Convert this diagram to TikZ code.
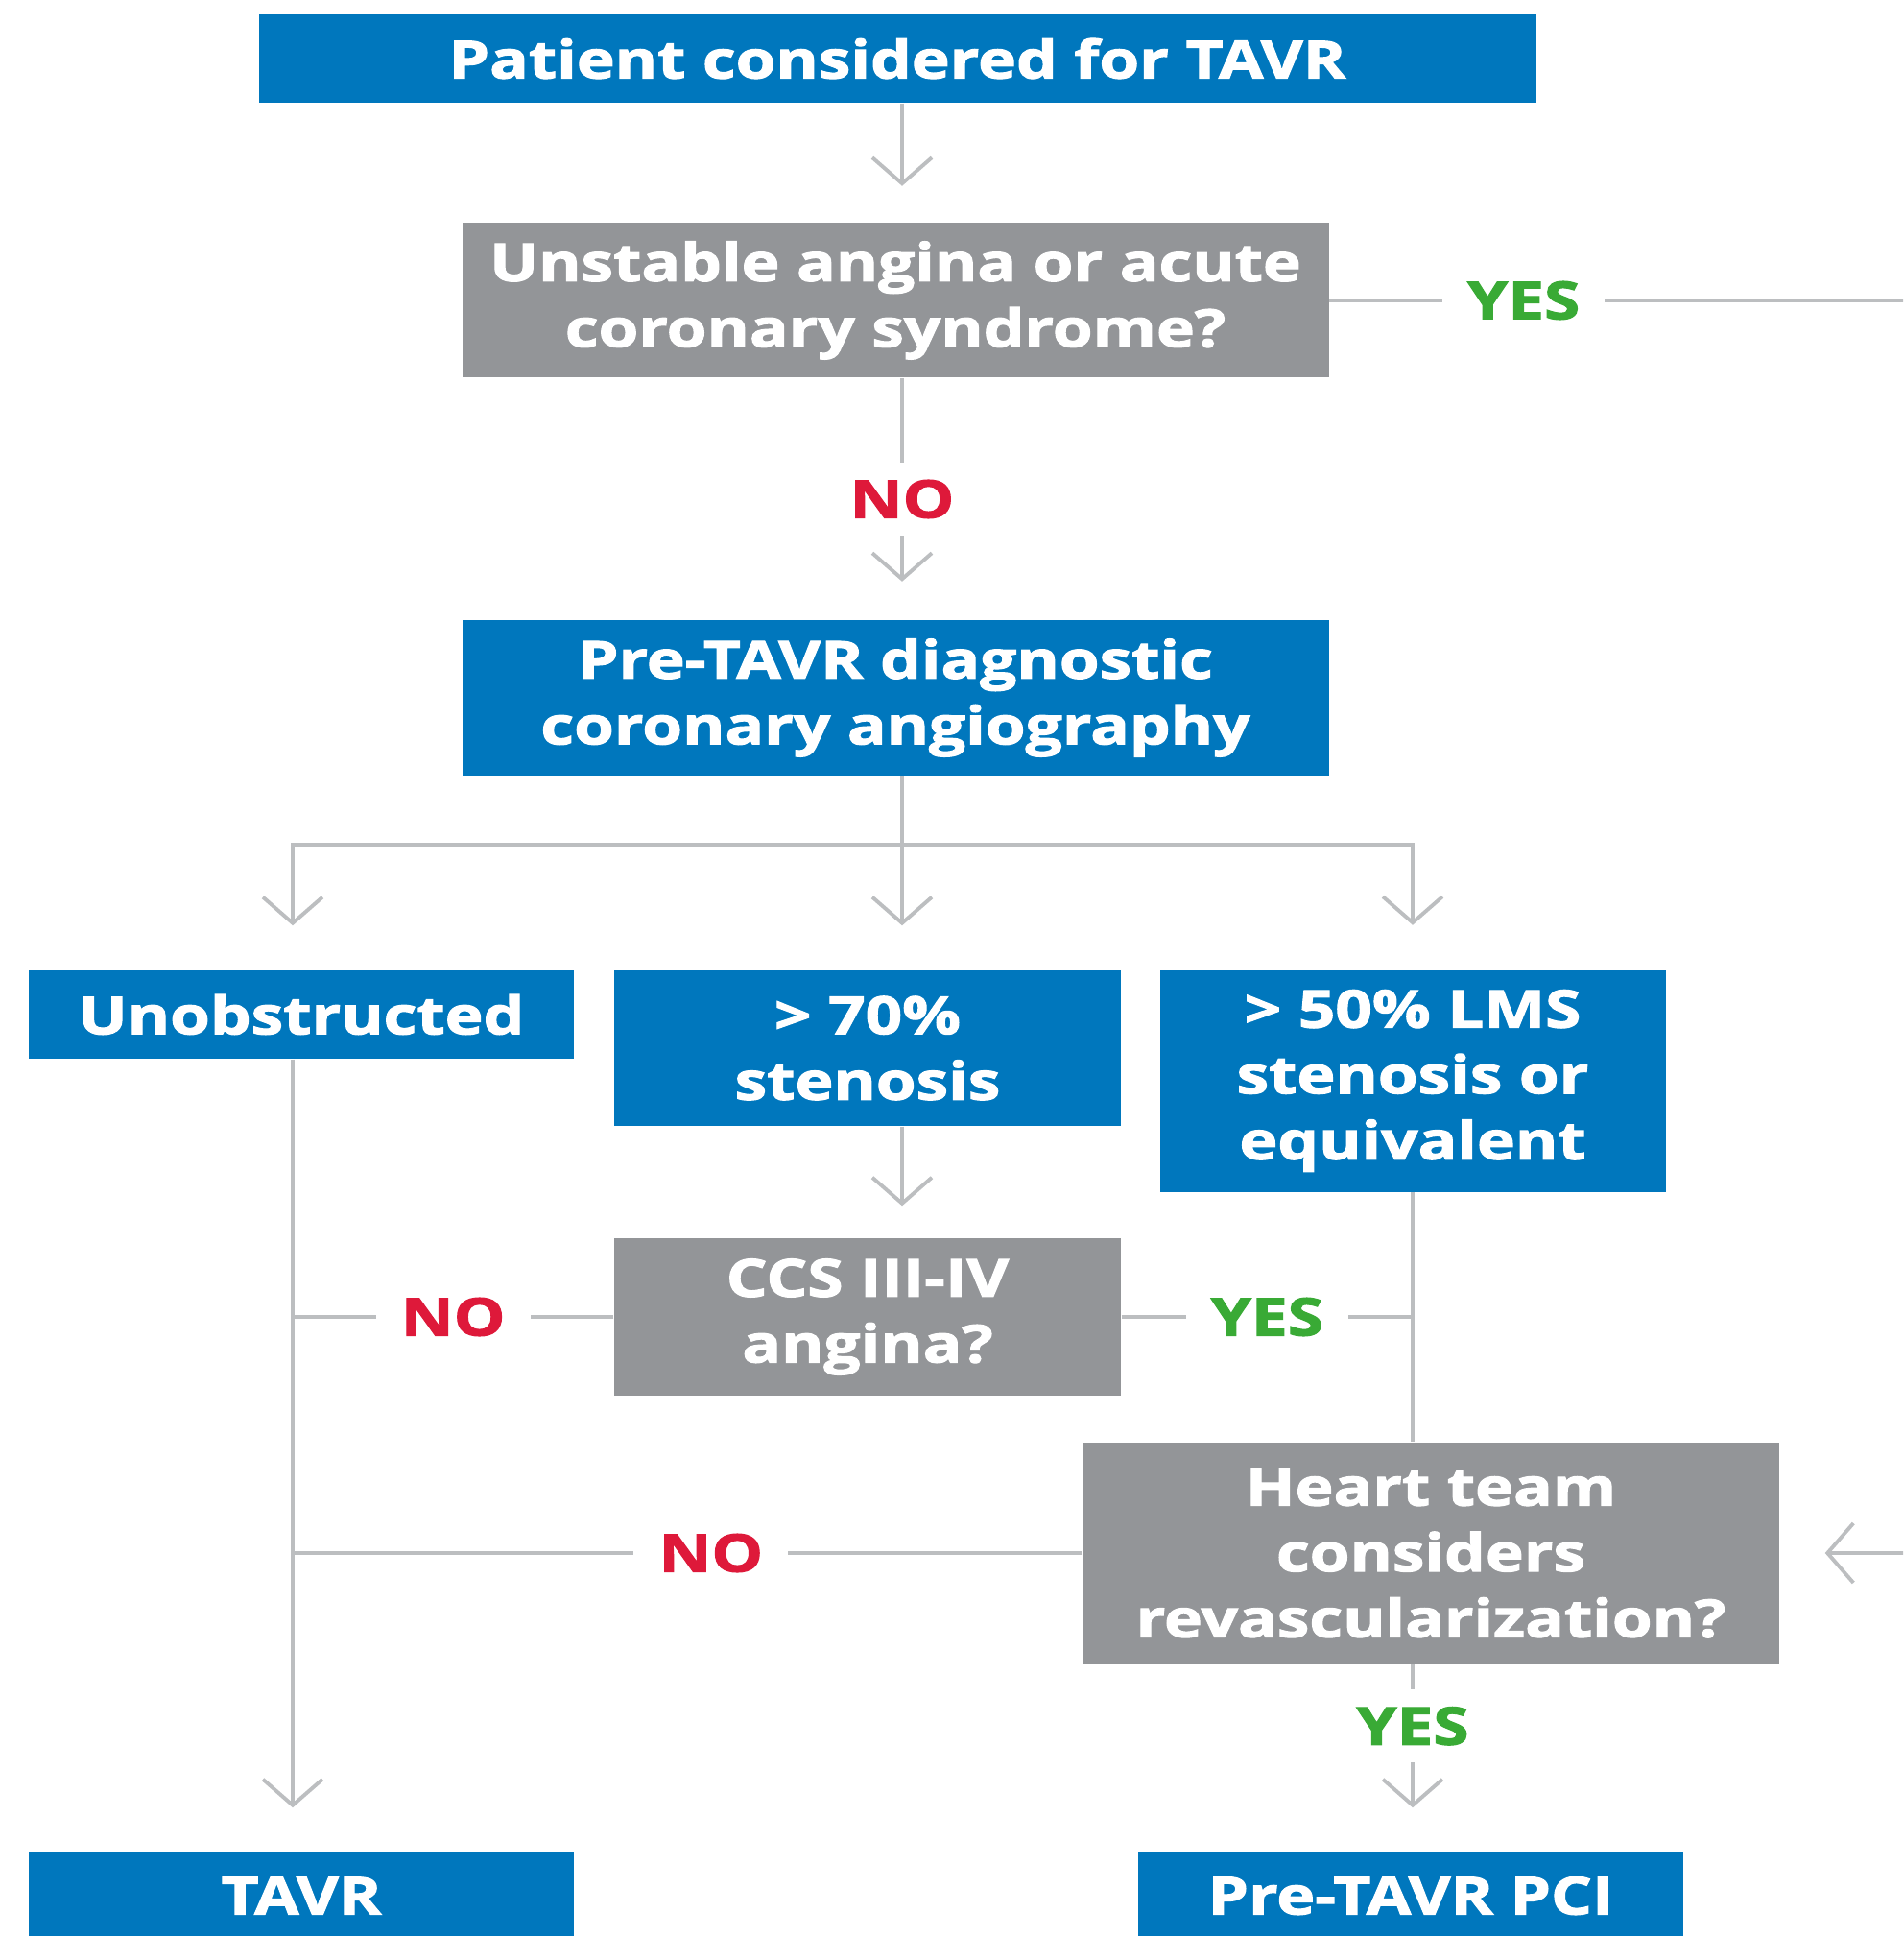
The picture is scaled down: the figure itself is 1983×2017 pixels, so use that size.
\documentclass[tikz,border=0pt]{standalone}
\usepackage{fontspec}
\setmainfont{Open Sans}[BoldFeatures={FakeBold=2, FakeStretch=1.24}]
\usetikzlibrary{arrows.meta}

\definecolor{tavrblue}{RGB}{0,119,189}
\definecolor{boxgray}{RGB}{147,149,152}
\definecolor{linegray}{RGB}{188,190,192}
\definecolor{yesgreen}{RGB}{57,170,53}
\definecolor{nored}{RGB}{222,25,58}

\begin{document}
\begin{tikzpicture}[x=0.1mm, y=-0.1mm,
    bluebox/.style={fill=tavrblue, text=white, align=center, inner sep=0pt,
        font=\fontsize{15.5}{19.5}\selectfont\bfseries},
    graybox/.style={bluebox, fill=boxgray},
    flow/.style={draw=linegray, line width=1.1pt},
    arr/.style={flow, -{Straight Barb[length=2.7mm, width=6.2mm]}},
    yes/.style={fill=white, text=yesgreen, inner xsep=2.6mm, inner ysep=1.8mm,
        font=\fontsize{15.5}{19.5}\selectfont\bfseries},
    no/.style={yes, text=nored}]

    % Page
    \clip (0,0) rectangle (1983,2017);

    % Columns of the connectors
    \coordinate (lft) at (305,0);
    \coordinate (mid) at (940,0);
    \coordinate (rgt) at (1472,0);
    \coordinate (edge) at (2060,0);
    \coordinate (split) at (0,880);

    % Boxes
    \node[bluebox, minimum width=133.1mm, minimum height=9.2mm] (start) at (935,61) {Patient considered for TAVR};
    \node[graybox, minimum width=90.3mm, minimum height=16.1mm] (acs) at (933,313) {Unstable angina or acute\\coronary syndrome?};
    \node[bluebox, minimum width=90.3mm, minimum height=16.1mm] (angio) at (933,727) {Pre-TAVR diagnostic\\coronary angiography};
    \node[bluebox, minimum width=56.8mm, minimum height=9.2mm] (unob) at (314,1057) {Unobstructed};
    \node[bluebox, minimum width=52.8mm, minimum height=16.2mm] (sten) at (904,1092) {> 70\%\\stenosis};
    \node[bluebox, minimum width=52.7mm, minimum height=23.1mm] (lms) at (1472,1126) {> 50\% LMS\\stenosis or\\equivalent};
    \node[graybox, minimum width=52.8mm, minimum height=16.4mm] (ccs) at (904,1372) {CCS III-IV\\angina?};
    \node[graybox, minimum width=72.6mm, minimum height=23.1mm] (heart) at (1491,1618) {Heart team\\considers\\revascularization?};
    \node[bluebox, minimum width=56.8mm, minimum height=9.2mm] (tavr) at (314,1975) {TAVR};
    \node[bluebox, minimum width=56.8mm, minimum height=9.2mm] (pci) at (1470,1975) {Pre-TAVR PCI};

    % Top part
    \draw[arr, shorten >=3.8mm] (start.south -| mid) -- (acs.north -| mid);
    \draw[arr, shorten >=4mm] (acs.south -| mid) -- (angio.north -| mid) node[no, midway] {NO};
    \draw[arr, shorten >=4.7mm] (acs.east) -- node[yes, pos=0.30] {YES} (acs.east -| edge) |- (heart.east);

    % Branches after the angiography
    \draw[arr, shorten >=4.6mm] (angio.south -| mid) |- (lft |- split) -- (unob.north -| lft);
    \draw[arr, shorten >=4.6mm] (angio.south -| mid) -- (sten.north -| mid);
    \draw[arr, shorten >=4.6mm] (angio.south -| mid) |- (rgt |- split) -- (lms.north -| rgt);

    % Middle part
    \draw[arr, shorten >=3.3mm] (sten.south -| mid) -- (ccs.north -| mid);
    \draw[flow] (ccs.west) -- (ccs.west -| lft) node[no, midway] {NO};
    \draw[flow] (ccs.east) -- (ccs.east -| rgt) node[yes, midway] {YES};
    \draw[flow] (lms.south -| rgt) -- (heart.north -| rgt);
    \draw[flow] (heart.west) -- (heart.west -| lft) node[no, pos=0.47] {NO};

    % Bottom part
    \draw[arr, shorten >=4.5mm] (unob.south -| lft) -- (tavr.north -| lft);
    \draw[arr, shorten >=4.5mm] (heart.south -| rgt) -- (pci.north -| rgt) node[yes, pos=0.33] {YES};
\end{tikzpicture}
\end{document}
